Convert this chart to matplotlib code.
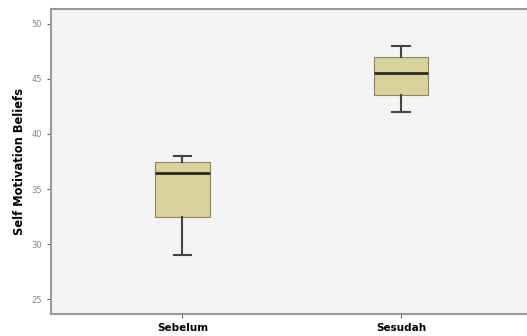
import matplotlib
matplotlib.use("Agg")
import matplotlib.pyplot as plt

categories = ["Sebelum", "Sesudah"]
whislo = [29, 42]
q1 = [32.5, 43.5]
med = [36.5, 45.5]
q3 = [37.5, 47]
whishi = [38, 48]
yticks = [25, 30, 35, 40, 45, 50]

stats = [dict(label=c, whislo=a, q1=b, med=m, q3=d, whishi=e)
         for c, a, b, m, d, e in zip(categories, whislo, q1, med, q3, whishi)]

fig = plt.figure(figsize=(5.27, 3.36), dpi=100)
ax = fig.add_axes([51/527, 22/336, 1 - 51/527 + 0.01, (314-9)/336])
ax.set_facecolor("#f4f4f4")
ax.bxp(stats, positions=[1, 2], widths=0.25, showfliers=False, patch_artist=True,
       boxprops=dict(facecolor="#d8d29c", edgecolor="#8a8660", linewidth=0.8),
       medianprops=dict(color="#2a2a1a", linewidth=2),
       whiskerprops=dict(color="#444444", linewidth=1.5),
       capprops=dict(color="#444444", linewidth=1.5), capwidths=0.08)
ax.set_xlim(0.399, 2.6)
ax.set_ylim(23.64, 51.36)
ax.set_yticks(yticks)
ax.tick_params(axis="y", labelsize=6, labelcolor="#888888", length=3, color="#666666")
ax.tick_params(axis="x", labelsize=7.5, length=3, color="#666666")
ax.set_xticks([1, 2])
ax.set_xticklabels(categories, fontweight="bold")
ax.set_ylabel("Self Motivation Beliefs", fontsize=8.3, fontweight="bold")
for s in ["left", "bottom", "top"]:
    ax.spines[s].set_color("#9a9a9a")
    ax.spines[s].set_linewidth(1.5)
ax.spines["right"].set_visible(False)
fig.savefig("out.png", dpi=100)
